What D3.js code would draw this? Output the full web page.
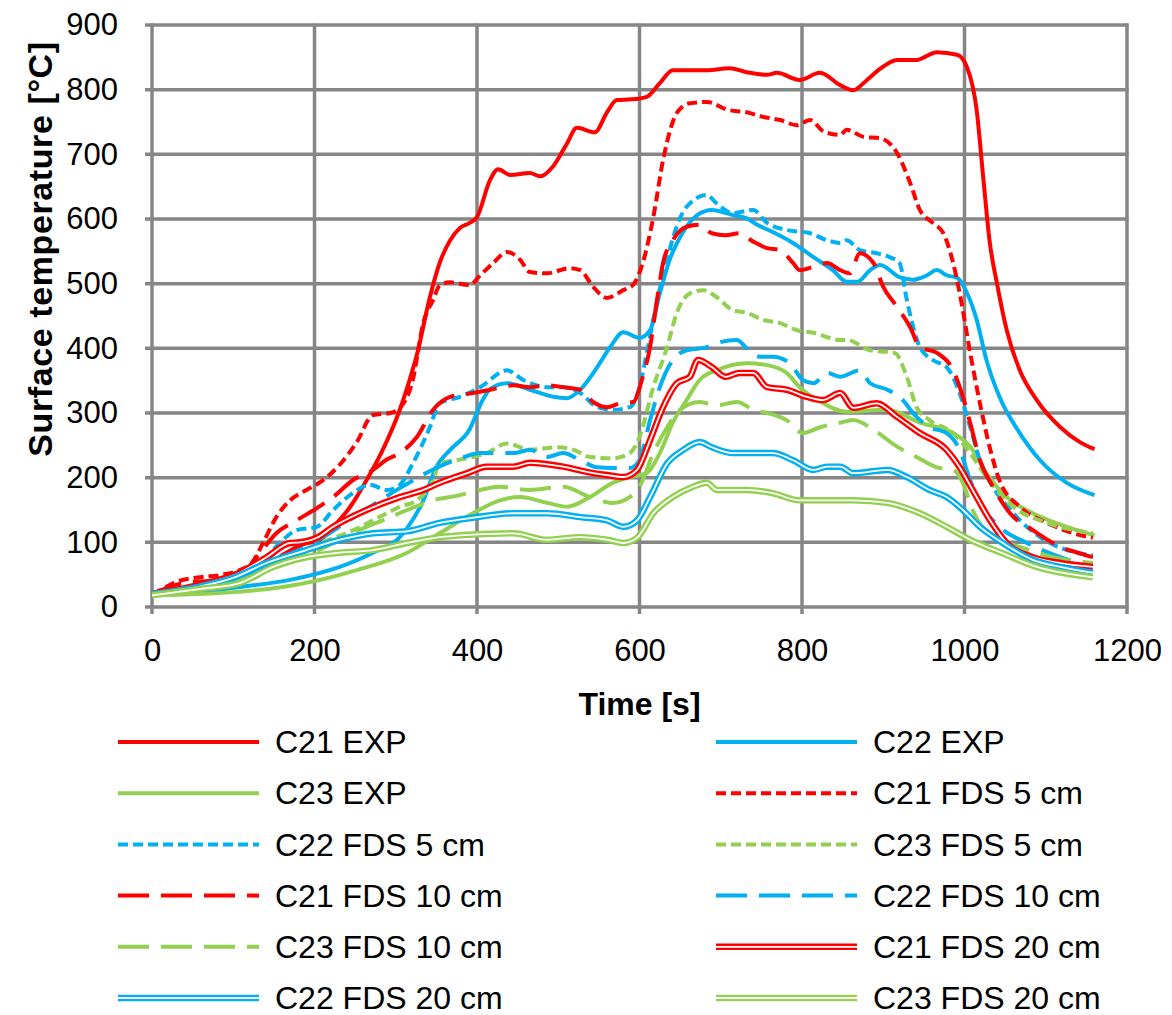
<!DOCTYPE html>
<html>
<head>
<meta charset="utf-8">
<script src="https://cdn.jsdelivr.net/npm/d3@7"></script>
<style>
    body { margin: 0; background: #fff; }
    svg text { font-family: "Liberation Sans", Arial, sans-serif; fill: #000; }
</style>
</head>
<body>
<svg id="chart" width="1172" height="1015"></svg>
<script>
// values, [time s, temperature C]
const C21_EXP = [[0,18],[50,25],[100,35],[130,48],[160,80],[186,97],[207,104],[223,124],[244,155],[264,196],[284,243],[305,305],[317,351],[326,390],[342,479],[354,532],[367,567],[379,586],[391,594],[400,603],[416,660],[426,677],[441,668],[465,671],[478,666],[494,682],[510,715],[523,741],[545,734],[560,765],[572,784],[590,785],[609,789],[625,810],[641,830],[658,830],[683,830],[711,833],[732,827],[757,823],[769,826],[797,815],[822,826],[847,807],[863,799],[880,815],[896,832],[917,846],[941,846],[966,858],[991,854],[1003,835],[1015,768],[1023,665],[1031,565],[1040,500],[1052,428],[1068,366],[1089,320],[1118,278],[1142,255],[1160,244]];
const C22_EXP = [[0,18],[50,22],[108,31],[170,42],[231,62],[272,84],[305,108],[314,122],[334,165],[350,217],[367,243],[391,275],[407,320],[416,337],[437,346],[465,336],[494,325],[511,323],[527,336],[548,371],[564,402],[580,425],[600,416],[613,428],[625,485],[638,540],[650,572],[671,606],[689,614],[715,606],[732,601],[745,591],[764,580],[789,563],[814,541],[838,521],[855,503],[868,503],[884,521],[896,529],[920,510],[936,506],[954,513],[966,521],[978,513],[991,509],[1003,486],[1015,444],[1027,382],[1043,325],[1068,269],[1093,227],[1126,192],[1160,173]];
const C23_EXP = [[0,18],[100,23],[161,31],[207,42],[252,57],[314,84],[354,114],[395,145],[428,165],[453,170],[486,161],[511,155],[539,170],[567,192],[588,201],[609,207],[625,238],[641,285],[658,320],[674,351],[695,366],[732,377],[757,374],[781,362],[797,340],[822,318],[855,302],[905,305],[945,285],[986,269],[1007,248],[1027,207],[1052,170],[1084,145],[1126,124],[1160,111]];
const C21_FDS5 = [[0,20],[10,26],[30,39],[59,46],[87,50],[108,57],[124,70],[137,100],[153,139],[170,165],[190,181],[207,193],[231,220],[252,255],[272,297],[293,300],[305,308],[321,351],[334,440],[346,475],[354,497],[367,502],[391,498],[404,513],[420,532],[437,549],[453,537],[465,518],[486,516],[514,524],[527,521],[543,495],[560,478],[580,490],[592,498],[604,532],[617,603],[629,691],[646,764],[662,779],[683,781],[708,769],[732,765],[752,758],[773,753],[794,745],[810,753],[827,735],[847,730],[855,738],[876,727],[896,725],[917,702],[933,656],[945,614],[961,594],[974,578],[986,532],[994,486],[1007,393],[1019,315],[1031,247],[1043,196],[1068,155],[1102,130],[1134,114],[1158,107]];
const C22_FDS5 = [[0,20],[60,30],[100,40],[130,60],[158,100],[178,119],[203,124],[223,150],[247,176],[268,189],[289,181],[305,189],[321,222],[342,278],[354,315],[379,325],[404,340],[437,366],[457,351],[486,340],[506,340],[527,331],[548,309],[567,305],[588,309],[600,340],[609,393],[621,470],[634,537],[641,570],[658,619],[683,637],[695,624],[715,609],[740,614],[757,594],[781,583],[810,578],[831,567],[847,563],[855,567],[871,552],[892,547],[908,541],[920,532],[929,475],[945,402],[961,382],[978,371],[994,331],[1007,278],[1019,227],[1035,186],[1060,145],[1093,108],[1126,88],[1158,80]];
const C23_FDS5 = [[0,20],[100,40],[150,65],[200,95],[250,120],[289,145],[305,155],[326,165],[346,196],[354,222],[375,227],[395,232],[412,238],[437,253],[465,243],[498,247],[519,243],[539,232],[567,230],[588,238],[600,263],[617,340],[634,402],[646,455],[662,485],[679,490],[695,479],[715,459],[732,455],[752,444],[773,439],[794,428],[814,424],[847,413],[855,413],[884,397],[914,393],[929,356],[941,309],[957,289],[986,269],[1007,238],[1027,201],[1060,155],[1102,130],[1158,114]];
const C21_FDS10 = [[0,20],[38,37],[80,42],[112,53],[133,84],[153,114],[178,134],[203,153],[223,170],[247,196],[272,212],[289,228],[305,238],[326,263],[346,305],[367,325],[395,331],[404,333],[428,339],[445,343],[465,340],[486,343],[506,340],[527,336],[543,317],[560,309],[576,315],[592,317],[604,356],[613,402],[621,470],[629,532],[641,567],[658,588],[674,591],[689,578],[706,575],[723,578],[740,565],[757,555],[773,552],[789,532],[797,521],[814,526],[831,532],[847,521],[859,516],[871,547],[888,532],[900,495],[917,464],[933,433],[945,402],[966,393],[986,366],[998,325],[1007,285],[1019,227],[1035,186],[1056,145],[1084,119],[1118,93],[1142,83],[1158,77]];
const C22_FDS10 = [[0,20],[100,40],[150,70],[200,100],[250,140],[300,180],[350,215],[380,230],[404,238],[445,238],[465,243],[486,232],[506,238],[527,227],[548,216],[567,215],[588,215],[600,227],[613,289],[625,340],[641,382],[658,397],[683,402],[695,408],[720,413],[732,400],[748,387],[764,387],[785,377],[801,351],[814,346],[831,362],[847,356],[871,366],[884,346],[905,336],[920,325],[941,294],[957,278],[978,269],[994,243],[1007,196],[1019,161],[1043,124],[1077,99],[1118,77],[1158,62]];
const C23_FDS10 = [[0,20],[100,38],[150,60],[200,85],[264,124],[284,134],[314,150],[346,165],[379,173],[404,181],[428,186],[465,181],[506,186],[539,170],[567,161],[588,170],[600,186],[617,238],[634,278],[650,305],[674,317],[695,312],[720,317],[740,305],[757,300],[781,289],[801,269],[822,278],[847,285],[863,289],[888,274],[917,248],[941,232],[966,216],[986,212],[998,192],[1010,150],[1035,108],[1068,93],[1109,77],[1158,68]];
const C21_FDS20 = [[0,20],[67,37],[108,53],[141,77],[170,99],[182,100],[203,107],[223,124],[264,150],[305,170],[334,181],[354,192],[388,207],[412,217],[445,217],[465,223],[506,217],[535,209],[560,204],[580,201],[597,212],[613,258],[629,309],[646,346],[662,356],[672,382],[689,371],[706,356],[723,362],[740,362],[757,340],[781,336],[806,325],[826,320],[847,331],[863,308],[892,315],[917,294],[945,269],[978,243],[994,216],[1010,181],[1031,135],[1052,99],[1084,77],[1118,68],[1158,62]];
const C22_FDS20 = [[0,20],[60,32],[100,45],[141,68],[190,88],[231,104],[272,114],[314,117],[354,130],[395,138],[445,145],[486,145],[527,139],[560,134],[580,124],[597,134],[613,170],[634,222],[654,243],[674,255],[689,247],[715,238],[740,238],[764,238],[789,227],[814,212],[831,217],[847,217],[863,207],[905,212],[929,201],[957,181],[978,170],[998,150],[1019,124],[1047,99],[1084,73],[1118,62],[1158,53]];
const C23_FDS20 = [[0,18],[60,28],[108,37],[149,62],[190,77],[231,84],[272,88],[314,99],[354,108],[395,112],[445,114],[486,104],[527,108],[560,104],[580,99],[597,107],[617,145],[641,170],[666,186],[683,192],[695,181],[732,181],[764,176],[797,165],[847,165],[863,165],[905,161],[945,145],[978,124],[1007,104],[1047,83],[1089,62],[1158,46]];

const X_TICKS = [0, 200, 400, 600, 800, 1000, 1200];
const Y_TICKS = [0, 100, 200, 300, 400, 500, 600, 700, 800, 900];

const RED = "#ff0000", BLUE = "#00b0f0", GREEN = "#92d050";

// legend order (row by row, two columns)
const SERIES = [
    {name: "C21 EXP", data: C21_EXP, color: RED, style: "solid"},
    {name: "C22 EXP", data: C22_EXP, color: BLUE, style: "solid"},
    {name: "C23 EXP", data: C23_EXP, color: GREEN, style: "solid"},
    {name: "C21 FDS 5 cm", data: C21_FDS5, color: RED, style: "short"},
    {name: "C22 FDS 5 cm", data: C22_FDS5, color: BLUE, style: "short"},
    {name: "C23 FDS 5 cm", data: C23_FDS5, color: GREEN, style: "short"},
    {name: "C21 FDS 10 cm", data: C21_FDS10, color: RED, style: "long"},
    {name: "C22 FDS 10 cm", data: C22_FDS10, color: BLUE, style: "long"},
    {name: "C23 FDS 10 cm", data: C23_FDS10, color: GREEN, style: "long"},
    {name: "C21 FDS 20 cm", data: C21_FDS20, color: RED, style: "double"},
    {name: "C22 FDS 20 cm", data: C22_FDS20, color: BLUE, style: "double"},
    {name: "C23 FDS 20 cm", data: C23_FDS20, color: GREEN, style: "double"}
];

const DASHES = {solid: null, short: "10,5", long: "31,12", double: null};

const MARGINS = {top: 25, left: 152};
const W = 975, H = 582;
const GRID = "#868686";

let svg = d3.select("#chart");
let g = svg.append("g")
    .attr("transform", `translate(${MARGINS.left},${MARGINS.top})`);

let x = d3.scaleLinear().domain([0, 1200]).range([0, W]);
let y = d3.scaleLinear().domain([0, 900]).range([H, 0]);

// grid + outward tick stubs
g.selectAll("line.grid-y")
    .data(Y_TICKS)
    .enter().append("line")
        .attr("class", "grid-y")
        .attr("x1", -7).attr("x2", W + 1.5)
        .attr("y1", d => y(d)).attr("y2", d => y(d))
        .attr("stroke", GRID).attr("stroke-width", 3.5);

g.selectAll("line.grid-x")
    .data(X_TICKS)
    .enter().append("line")
        .attr("class", "grid-x")
        .attr("x1", d => x(d)).attr("x2", d => x(d))
        .attr("y1", -1.5).attr("y2", H + 7)
        .attr("stroke", GRID).attr("stroke-width", 3.5);

// axes only for labels
let yAxis = d3.axisLeft(y).tickValues(Y_TICKS).tickSize(0).tickPadding(34)
    .tickFormat(d3.format("d"));
let yG = g.append("g").call(yAxis);
yG.select(".domain").remove();
yG.selectAll("text").style("font-size", "31px");

let xAxis = d3.axisBottom(x).tickValues(X_TICKS).tickSize(0).tickPadding(32)
    .tickFormat(d3.format("d"));
let xG = g.append("g").attr("transform", `translate(0,${H})`).call(xAxis);
xG.select(".domain").remove();
xG.selectAll("text").style("font-size", "31px");

// axis titles
svg.append("text")
    .attr("x", MARGINS.left + W / 2)
    .attr("y", 715)
    .attr("text-anchor", "middle")
    .style("font-size", "32px")
    .style("font-weight", "bold")
    .text("Time [s]");

svg.append("text")
    .attr("transform", `translate(52,249) rotate(-90)`)
    .attr("text-anchor", "middle")
    .style("font-size", "34px")
    .style("font-weight", "bold")
    .style("letter-spacing", "0.6px")
    .text("Surface temperature [°C]");

// series lines
let line = d3.line()
    .x(d => x(d[0]))
    .y(d => y(d[1]))
    .curve(d3.curveMonotoneX);

function drawStroke(sel, s, pathFn){
    if(s.style === "double"){
        sel.append("path").attr("d", pathFn)
            .attr("fill", "none").attr("stroke", s.color)
            .attr("stroke-width", 6.5).attr("stroke-linejoin", "round");
        sel.append("path").attr("d", pathFn)
            .attr("fill", "none").attr("stroke", "#fff")
            .attr("stroke-width", 1.8).attr("stroke-linejoin", "round");
    } else {
        sel.append("path").attr("d", pathFn)
            .attr("fill", "none").attr("stroke", s.color)
            .attr("stroke-width", 4)
            .attr("stroke-linejoin", "round")
            .attr("stroke-dasharray", DASHES[s.style]);
    }
}

let visG = g.append("g").attr("class", "vis-group");
SERIES.forEach(s => {
    drawStroke(visG.append("g"), s, line(s.data));
});

// legend
const LEG = {x0: [118, 716], lineLen: 141, textGap: 16, y0: 742, dy: 51.2};

let legend = svg.append("g").attr("class", "legend");
SERIES.forEach((s, i) => {
    let col = i % 2, row = Math.floor(i / 2);
    let lx = LEG.x0[col], ly = LEG.y0 + row * LEG.dy;
    let item = legend.append("g");
    drawStroke(item, s, `M${lx},${ly}H${lx + LEG.lineLen}`);
    item.append("text")
        .attr("x", lx + LEG.lineLen + LEG.textGap)
        .attr("y", ly)
        .attr("dy", "0.35em")
        .style("font-size", "32px")
        .text(s.name);
});
</script>
</body>
</html>
